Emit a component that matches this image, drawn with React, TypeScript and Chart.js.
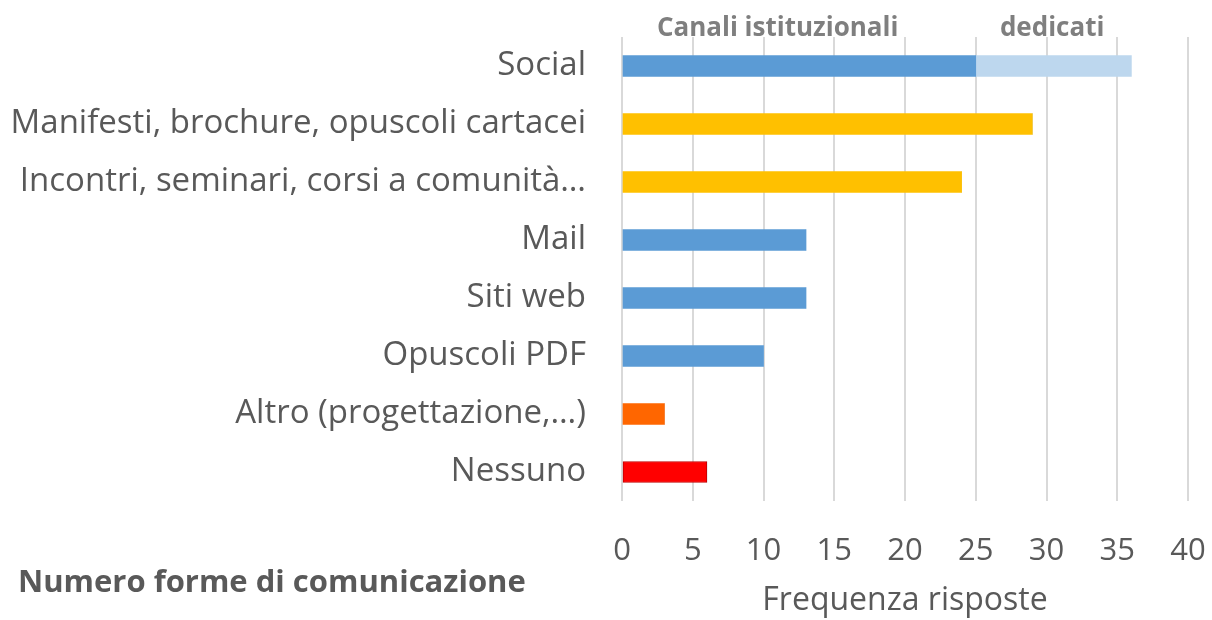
import React, { useEffect, useRef } from "react";
import { Chart, registerables } from "chart.js";

Chart.register(...registerables);

const categories = [
  "Social",
  "Manifesti, brochure, opuscoli cartacei",
  "Incontri, seminari, corsi a comunità…",
  "Mail",
  "Siti web",
  "Opuscoli PDF",
  "Altro (progettazione,…)",
  "Nessuno",
];
const mainValues = [25, 29, 24, 13, 13, 10, 3, 6];
const dedicatedValues = [11, 0, 0, 0, 0, 0, 0, 0];
const mainColors = ["#5B9BD5", "#FFC000", "#FFC000", "#5B9BD5", "#5B9BD5", "#5B9BD5", "#FF6600", "#FF0000"];
const mainBorders = ["#5B9BD5", "#FFC000", "#FFC000", "#5B9BD5", "#5B9BD5", "#5B9BD5", "#FF6600", "#C00000"];
const mainBorderWidths = [0, 0, 0, 0, 0, 0, 0, 1];
const xTicks = [0, 5, 10, 15, 20, 25, 30, 35, 40];
const topLabels = ["Canali istituzionali", "dedicati"];
const topLabelValues = [11, 30.4];
const xTitle = "Frequenza risposte";
const yTitle = "Numero forme di comunicazione";

const FONT = "'Open Sans', sans-serif";
const TEXT = "#595959";

export default function App() {
  const ref = useRef<HTMLCanvasElement | null>(null);
  useEffect(() => {
    document.body.style.margin = "0";
    const canvas = ref.current!;
    const textPlugin = {
      id: "extraText",
      afterDraw(chart: any) {
        const ctx = chart.ctx;
        const xs = chart.scales.x;
        ctx.save();
        ctx.fillStyle = "#7F7F7F";
        ctx.font = `bold 26px ${FONT}`;
        ctx.textAlign = "center";
        ctx.textBaseline = "alphabetic";
        topLabels.forEach((t, i) => {
          ctx.fillText(t, xs.getPixelForValue(topLabelValues[i]), 36);
        });
        ctx.fillStyle = TEXT;
        ctx.font = `bold 31px ${FONT}`;
        ctx.textAlign = "left";
        ctx.textBaseline = "middle";
        ctx.fillText(yTitle, 18, 583);
        ctx.restore();
      },
    };
    const chart = new Chart(canvas, {
      type: "bar",
      data: {
        labels: categories,
        datasets: [
          {
            label: topLabels[0],
            data: mainValues,
            backgroundColor: mainColors,
            borderColor: mainBorders,
            borderWidth: mainBorderWidths,
            borderSkipped: false,
            barThickness: 21,
          },
          {
            label: topLabels[1],
            data: dedicatedValues,
            backgroundColor: "#BDD7EE",
            borderWidth: 0,
            barThickness: 21,
          },
        ],
      },
      options: {
        indexAxis: "y",
        animation: false,
        responsive: false,
        maintainAspectRatio: false,
        layout: { padding: { top: 37, right: 24, left: 0, bottom: 0 } },
        plugins: { legend: { display: false }, tooltip: { enabled: false } },
        scales: {
          x: {
            stacked: true,
            min: 0,
            max: 40,
            afterBuildTicks(scale: any) {
              scale.ticks = xTicks.map((v) => ({ value: v }));
            },
            grid: { color: "#D9D9D9", lineWidth: 2, drawTicks: false },
            border: { display: false },
            ticks: { color: TEXT, font: { family: FONT, size: 31 }, padding: 32 },
            title: {
              display: true,
              text: xTitle,
              color: TEXT,
              font: { family: FONT, size: 32 },
              padding: { top: 4, bottom: 0 },
            },
            afterFit(scale: any) {
              scale.height = 119;
              scale.paddingLeft = 0;
              scale.paddingRight = 0;
            },
          },
          y: {
            stacked: true,
            grid: { display: false, drawTicks: false },
            border: { display: false },
            ticks: { color: TEXT, font: { family: FONT, size: 33 }, padding: 36, autoSkip: false },
            afterFit(scale: any) {
              scale.width = 622;
              scale.paddingTop = 0;
              scale.paddingBottom = 0;
            },
          },
        },
      },
      plugins: [textPlugin],
    });
    return () => chart.destroy();
  }, []);
  return (
    <div style={{ position: "fixed", left: 0, top: 0, width: 1212, height: 620, background: "#fff" }}>
      <canvas ref={ref} width={1212} height={620} />
    </div>
  );
}
